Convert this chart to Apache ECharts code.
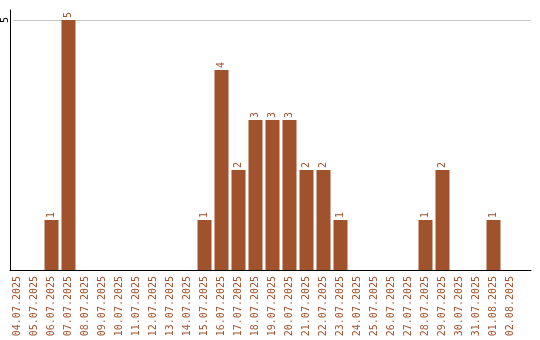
<!DOCTYPE html>
<html>
<head>
<meta charset="utf-8">
<script src="https://cdn.jsdelivr.net/npm/echarts@6/dist/echarts.min.js"></script>
<style>html,body{margin:0;padding:0;background:#fff}#c{width:540px;height:340px}</style>
</head>
<body>
<div id="c"></div>
<script>
var categories = ['04.07.2025','05.07.2025','06.07.2025','07.07.2025','08.07.2025','09.07.2025','10.07.2025','11.07.2025','12.07.2025','13.07.2025','14.07.2025','15.07.2025','16.07.2025','17.07.2025','18.07.2025','19.07.2025','20.07.2025','21.07.2025','22.07.2025','23.07.2025','24.07.2025','25.07.2025','26.07.2025','27.07.2025','28.07.2025','29.07.2025','30.07.2025','31.07.2025','01.08.2025','02.08.2025'];
var values = [0,0,1,5,0,0,0,0,0,0,0,1,4,2,3,3,3,2,2,1,0,0,0,0,1,2,0,0,1,0];
var yTicks = [5];

var FONT = '"DejaVu Sans Mono", "Liberation Mono", monospace';
var BROWN = '#A0522D';
var chart = echarts.init(document.getElementById('c'), null, {renderer: 'canvas'});
chart.setOption({
  animation: false,
  backgroundColor: '#ffffff',
  grid: [
    {left: 9, top: 10, width: 510, height: 260},
    {left: 10, top: 10, right: 9, height: 260},
    {left: 10, top: 20, right: 9, height: 250}
  ],
  xAxis: [
    {
      type: 'category', gridIndex: 0, data: categories,
      axisLine: {show: false}, axisTick: {show: false},
      axisLabel: {rotate: 90, interval: 0, color: BROWN, fontFamily: FONT, fontSize: 10, margin: 6}
    },
    {
      type: 'value', gridIndex: 1, min: 0, max: 1,
      axisLine: {show: true, onZero: false, lineStyle: {color: '#000', width: 1}},
      axisTick: {show: false}, axisLabel: {show: false}, splitLine: {show: false}
    },
    {
      type: 'value', gridIndex: 2, min: 0, max: 1, show: false
    }
  ],
  yAxis: [
    {
      type: 'value', gridIndex: 1, min: 0, max: 5.2,
      axisLine: {show: true, lineStyle: {color: '#000', width: 1}},
      axisTick: {show: false}, axisLabel: {show: false}, splitLine: {show: false}
    },
    {
      type: 'value', gridIndex: 0, min: 0, max: 5.2,
      axisLine: {show: false}, axisTick: {show: false}, axisLabel: {show: false}, splitLine: {show: false}
    },
    {
      type: 'value', gridIndex: 2, min: 0, max: 5, interval: 5,
      axisLine: {show: false}, axisTick: {show: false},
      axisLabel: {
        rotate: 90, color: '#000', fontFamily: FONT, fontSize: 10, margin: 3,
        formatter: function (v) { return yTicks.indexOf(v) >= 0 ? String(v) : ''; }
      },
      splitLine: {show: true, lineStyle: {color: '#c8c8c8', width: 1}}
    }
  ],
  series: [{
    type: 'bar', xAxisIndex: 0, yAxisIndex: 1,
    data: values,
    barWidth: 14,
    itemStyle: {color: BROWN},
    z: 5,
    label: {
      show: true, position: 'top', rotate: 90, align: 'left', verticalAlign: 'middle',
      distance: 2, color: BROWN, fontFamily: FONT, fontSize: 10,
      formatter: function (p) { return p.value ? String(p.value) : ''; }
    }
  }]
});
</script>
</body>
</html>
